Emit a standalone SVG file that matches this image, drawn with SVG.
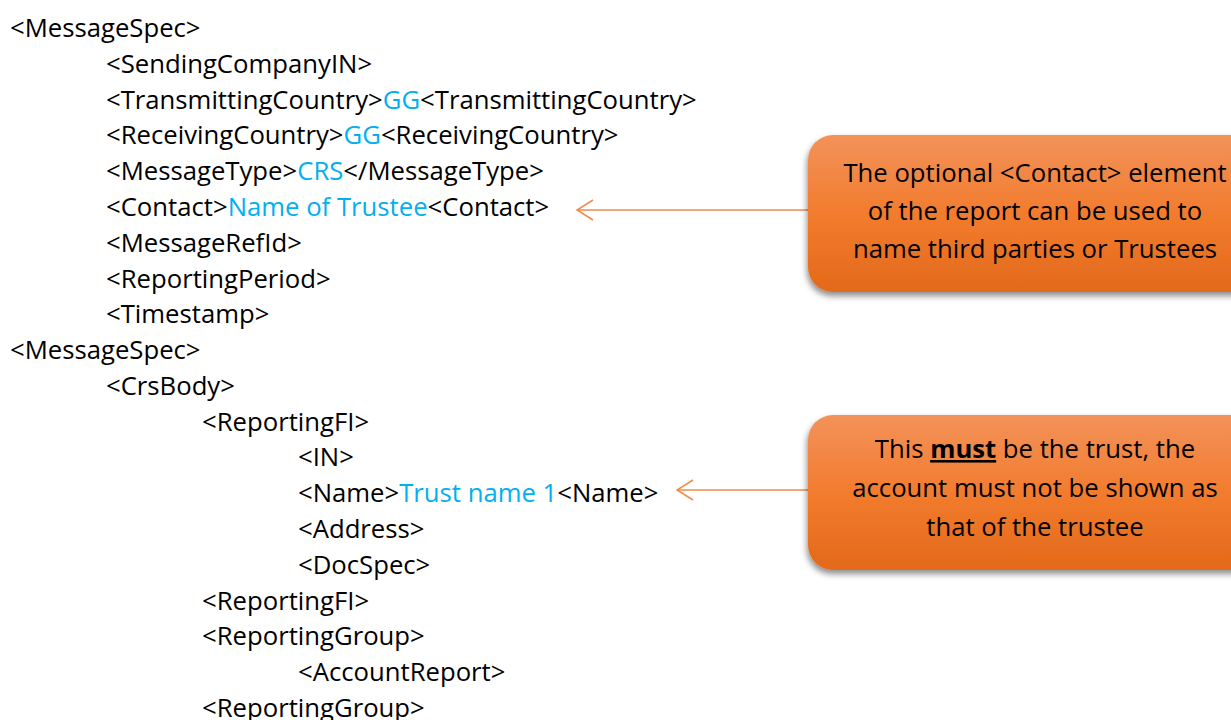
<svg xmlns="http://www.w3.org/2000/svg" width="1231" height="720" viewBox="0 0 1231 720">
<style>
  .t { font-family: "Open Sans", "Noto Sans", sans-serif; font-size: 25.7px; fill: #000; }
  .v { fill: #00B0F0; }
  .c { font-family: "Open Sans", "Noto Sans", sans-serif; font-size: 25.7px; fill: #000; text-anchor: middle; }
  .conn { stroke: #F08A4B; stroke-width: 1.5; fill: none; }
  .box { fill: url(#og); filter: url(#sh); }
</style>
<defs>
  <linearGradient id="og" x1="0" y1="0" x2="0" y2="1">
    <stop offset="0" stop-color="#F2925A"/>
    <stop offset="0.5" stop-color="#F27C2E"/>
    <stop offset="1" stop-color="#E3691A"/>
  </linearGradient>
  <filter id="sh" x="-10%" y="-10%" width="120%" height="130%">
    <feDropShadow dx="-1" dy="4" stdDeviation="3" flood-color="#000" flood-opacity="0.45"/>
  </filter>
  <marker id="ah" markerUnits="userSpaceOnUse" markerWidth="20" markerHeight="24" refX="18" refY="11" orient="auto" viewBox="0 0 20 24">
    <path d="M2,1 L18,11 L2,21" fill="none" stroke="#F08A4B" stroke-width="1.5"/>
  </marker>
</defs>
<rect width="1231" height="720" fill="#fff"/>
<g id="xml-text">
  <text class="t" x="10" y="37">&lt;MessageSpec&gt;</text>
  <text class="t" x="106" y="72.8">&lt;SendingCompanyIN&gt;</text>
  <text class="t" x="106" y="108.6">&lt;TransmittingCountry&gt;<tspan class="v">GG</tspan>&lt;TransmittingCountry&gt;</text>
  <text class="t" x="106" y="144.3">&lt;ReceivingCountry&gt;<tspan class="v">GG</tspan>&lt;ReceivingCountry&gt;</text>
  <text class="t" x="106" y="180.1">&lt;MessageType&gt;<tspan class="v">CRS</tspan>&lt;/MessageType&gt;</text>
  <text class="t" x="106" y="215.9">&lt;Contact&gt;<tspan class="v">Name of Trustee</tspan>&lt;Contact&gt;</text>
  <text class="t" x="106" y="251.7">&lt;MessageRefId&gt;</text>
  <text class="t" x="106" y="287.5">&lt;ReportingPeriod&gt;</text>
  <text class="t" x="106" y="323.2">&lt;Timestamp&gt;</text>
  <text class="t" x="10" y="359">&lt;MessageSpec&gt;</text>
  <text class="t" x="106" y="394.8">&lt;CrsBody&gt;</text>
  <text class="t" x="202" y="430.6">&lt;ReportingFI&gt;</text>
  <text class="t" x="298" y="466.4">&lt;IN&gt;</text>
  <text class="t" x="298" y="502.1">&lt;Name&gt;<tspan class="v">Trust name 1</tspan>&lt;Name&gt;</text>
  <text class="t" x="298" y="537.9">&lt;Address&gt;</text>
  <text class="t" x="298" y="573.7">&lt;DocSpec&gt;</text>
  <text class="t" x="202" y="609.5">&lt;ReportingFI&gt;</text>
  <text class="t" x="202" y="645.3">&lt;ReportingGroup&gt;</text>
  <text class="t" x="298" y="681">&lt;AccountReport&gt;</text>
  <text class="t" x="202" y="716.8">&lt;ReportingGroup&gt;</text>
</g>
<g id="connectors">
  <line class="conn" x1="810" y1="210" x2="577" y2="210" marker-end="url(#ah)"/>
  <line class="conn" x1="810" y1="490" x2="677" y2="490" marker-end="url(#ah)"/>
</g>
<g id="callout-contact">
  <rect class="box" x="808" y="135" width="460" height="157" rx="25" ry="25"/>
  <text class="c" x="1035" y="182">The optional &lt;Contact&gt; element</text>
  <text class="c" x="1035" y="220">of the report can be used to</text>
  <text class="c" x="1035" y="258">name third parties or Trustees</text>
</g>
<g id="callout-trust">
  <rect class="box" x="808" y="415" width="460" height="155" rx="25" ry="25"/>
  <text class="c" x="1035" y="458">This <tspan font-weight="bold" text-decoration="underline">must</tspan> be the trust, the</text>
  <text class="c" x="1035" y="497">account must not be shown as</text>
  <text class="c" x="1035" y="536">that of the trustee</text>
</g>
</svg>
